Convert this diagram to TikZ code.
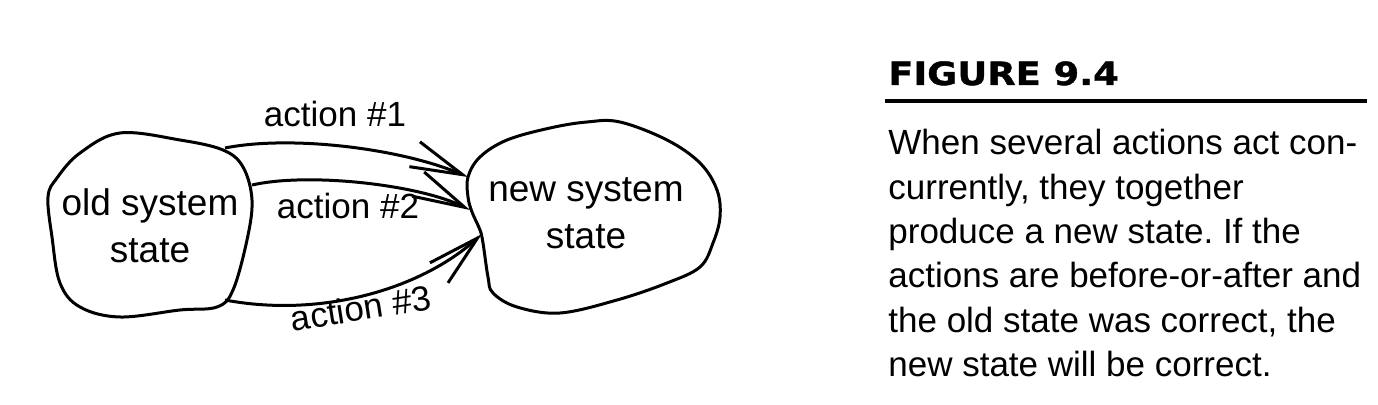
\documentclass[tikz,border=0pt]{standalone}
\usepackage{fontspec}
\setmainfont{Liberation Sans}
\newfontfamily\headfont[FakeStretch=1.15,BoldFeatures={FakeBold=1.2}]{DejaVu Sans}
\usetikzlibrary{arrows.meta,positioning}
\tikzset{
  blob/.style = {line width=1.5pt, line join=round},
  act/.style  = {line width=1.5pt, -{Straight Barb[length=26pt,width=13.5pt]}},
  lbl/.style  = {font=\fontsize{17.5}{23}\selectfont, inner sep=0pt},
  stxt/.style = {lbl, align=center, font=\fontsize{18.5}{23.5}\selectfont},
}
\frenchspacing

\begin{document}
\begin{tikzpicture}[x=0.5pt,y=-0.5pt]
  \useasboundingbox (0,0) rectangle (1378,405);
  % old state
  \draw[blob] plot[smooth cycle,tension=0.6] coordinates {(57,178) (80,153) (120,133)
    (180,140) (223,150) (243,167) (252,200) (247,240) (233,290) (217,307) (180,310)
    (120,317) (80,307) (60,283) (52,237) (48,197)};
  \node[stxt] (old) at (150,226) {old system\\state};
  % new state
  \draw[blob] plot[smooth cycle,tension=0.6] coordinates {(468,177) (480,157) (507,140)
    (550,128) (587,122) (620,122) (667,140) (700,163) (717,190) (720,217) (713,243)
    (700,267) (667,283) (617,300) (560,313) (517,307) (493,293) (488,277) (483,243)
    (480,230) (472,212) (468,197)};
  \node[stxt] (new) at (586,213) {new system\\state};
  % ends of the actions on the outlines
  \coordinate (o1) at (225,148);
  \coordinate (o2) at (252,185);
  \coordinate (o3) at (225,300);
  \coordinate (n1) at (468,177);
  \coordinate (n2) at (470,210);
  \coordinate (n3) at (482,234);
  % the three actions
  \draw[act] (o1) .. controls (290,135) and (400,148) .. (n1);
  \draw[act] (o2) .. controls (310,172) and (420,185) .. (n2);
  \draw[act] (o3) .. controls (320,318) and (420,290) .. (n3);
  \node[lbl] (a1) at (335,114) {action \#1};
  \node[lbl] (a2) at (348,206) {action \#2};
  \node[lbl,rotate=9] (a3) at (361,308) {action \#3};
  % caption
  \node[anchor=base west,inner sep=0pt,font=\headfont\bfseries\fontsize{16}{16}\selectfont]
    (fig) at (888,85) {FIGURE 9.4};
  \draw[line width=2pt] (885,101) -- (1367,101);
  \node[anchor=north west,align=left,inner sep=0pt,font=\fontsize{17.5}{22.2}\selectfont]
    (cap) at (888,129) {When several actions act con-\\currently, they together\\
    produce a new state. If the\\actions are before-or-after and\\
    the old state was correct, the\\new state will be correct.};
\end{tikzpicture}
\end{document}
